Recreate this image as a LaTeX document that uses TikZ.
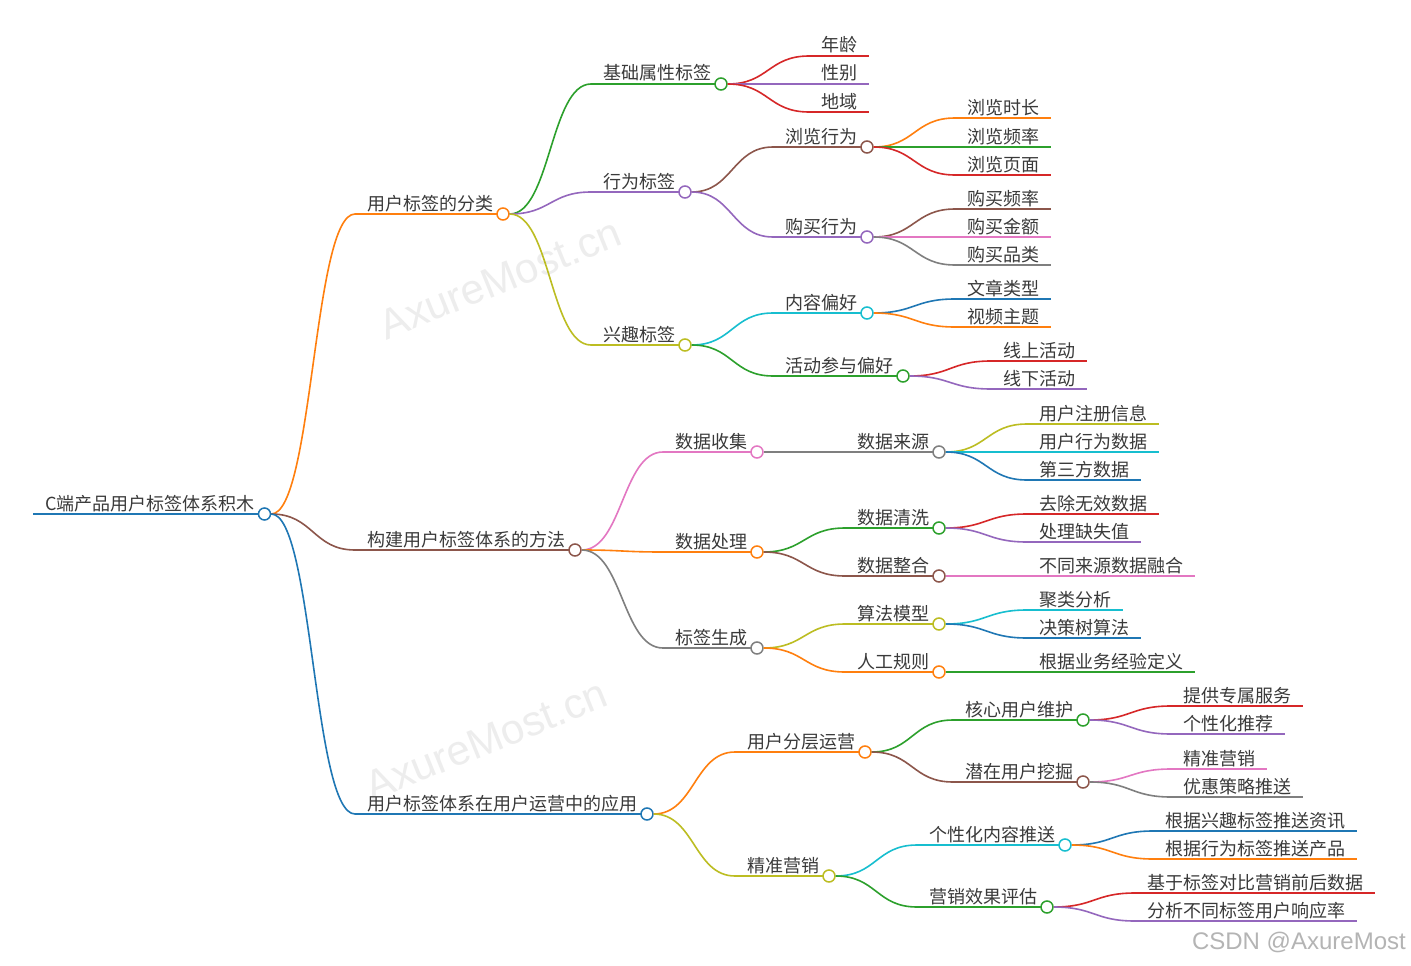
\documentclass[tikz,border=0pt]{standalone}
\usepackage{fontspec}
\newfontfamily\cjk{Noto Sans CJK SC}
\newfontfamily\wmfont{Liberation Sans}
\usetikzlibrary{calc}
\definecolor{cB}{HTML}{1F77B4}
\definecolor{cO}{HTML}{FF7F0E}
\definecolor{cG}{HTML}{2CA02C}
\definecolor{cR}{HTML}{D62728}
\definecolor{cP}{HTML}{9467BD}
\definecolor{cN}{HTML}{8C564B}
\definecolor{cK}{HTML}{E377C2}
\definecolor{cY}{HTML}{7F7F7F}
\definecolor{cL}{HTML}{BCBD22}
\definecolor{cC}{HTML}{17BECF}
\definecolor{txt}{HTML}{3A3A3A}
\definecolor{wmc}{HTML}{EDEDED}
\definecolor{csdn}{HTML}{B4B4B4}
\tikzset{
  lbl/.style={font=\cjk\fontsize{18}{20}\selectfont, text=txt, inner sep=0pt, outer sep=0pt},
  dot/.style={circle, draw=#1, fill=white, line width=1.5pt, minimum size=12pt, inner sep=0pt},
  br/.style={draw=#1, line width=1.6pt},
  wm/.style={font=\wmfont\fontsize{42}{44}\selectfont, text=wmc, inner sep=0pt},
}
\newcommand\mnode[5]{%
  \coordinate (#1-s) at (#2,#3);
  \node[lbl, anchor=base west] (#1) at (#2+12,#3-4) {#5};
  \path (#1.east |- #1-s) ++(10,0) coordinate (#1-cc);
  \draw[br=#4] (#1-s) -- (#1-cc);
  \node[dot=#4] (#1-c) at (#1-cc) {};
}
\newcommand\mleaf[5]{%
  \coordinate (#1-s) at (#2,#3);
  \node[lbl, anchor=base west] (#1) at (#2+12,#3-4) {#5};
  \path (#1.east |- #1-s) ++(12,0) coordinate (#1-e);
  \draw[br=#4] (#1-s) -- (#1-e);
}
\newcommand\mlink[3]{%
  \draw[br=#1] let \p1=(#2-c.east), \p2=(#3-s) in (\p1) .. controls ({0.5*\x1+0.5*\x2},\y1) and ({0.5*\x1+0.5*\x2},\y2) .. (\p2);
}
\begin{document}
\begin{tikzpicture}[x=1pt,y=-1pt]
\fill[white] (0,0) rectangle (1411,966);
\useasboundingbox (0,0) rectangle (1411,966);
% watermarks
\node[wm, rotate=22] (wm1) at (500,279) {AxureMost.cn};
\node[wm, rotate=22] (wm2) at (486,740) {AxureMost.cn};
\node[font=\wmfont\fontsize{24}{26}\selectfont, text=csdn, anchor=base east, inner sep=0pt] (wm3) at (1406,949) {CSDN @AxureMost};
% root
\mnode{root}{33}{514}{cB}{C端产品用户标签体系积木}
% level 1
\mnode{a}{355}{214}{cO}{用户标签的分类}\mlink{cO}{root}{a}
\mnode{b}{355}{550}{cN}{构建用户标签体系的方法}\mlink{cN}{root}{b}
\mnode{c}{355}{814}{cB}{用户标签体系在用户运营中的应用}\mlink{cB}{root}{c}
% --- a
\mnode{a1}{591}{84}{cG}{基础属性标签}\mlink{cG}{a}{a1}
\mnode{a2}{591}{192}{cP}{行为标签}\mlink{cP}{a}{a2}
\mnode{a3}{591}{345}{cL}{兴趣标签}\mlink{cL}{a}{a3}
% a1 leaves
\mleaf{a11}{809}{56}{cR}{年龄}\mlink{cR}{a1}{a11}
\mleaf{a12}{809}{84}{cP}{性别}\mlink{cP}{a1}{a12}
\mleaf{a13}{809}{112}{cR}{地域}\mlink{cR}{a1}{a13}
% a2
\mnode{a21}{773}{147}{cN}{浏览行为}\mlink{cN}{a2}{a21}
\mnode{a22}{773}{237}{cP}{购买行为}\mlink{cP}{a2}{a22}
\mleaf{a211}{955}{118}{cO}{浏览时长}\mlink{cO}{a21}{a211}
\mleaf{a212}{955}{147}{cG}{浏览频率}\mlink{cG}{a21}{a212}
\mleaf{a213}{955}{175}{cR}{浏览页面}\mlink{cR}{a21}{a213}
\mleaf{a221}{955}{209}{cN}{购买频率}\mlink{cN}{a22}{a221}
\mleaf{a222}{955}{237}{cK}{购买金额}\mlink{cK}{a22}{a222}
\mleaf{a223}{955}{265}{cY}{购买品类}\mlink{cY}{a22}{a223}
% a3
\mnode{a31}{773}{313}{cC}{内容偏好}\mlink{cC}{a3}{a31}
\mnode{a32}{773}{376}{cG}{活动参与偏好}\mlink{cG}{a3}{a32}
\mleaf{a311}{955}{299}{cB}{文章类型}\mlink{cB}{a31}{a311}
\mleaf{a312}{955}{327}{cO}{视频主题}\mlink{cO}{a31}{a312}
\mleaf{a321}{991}{361}{cR}{线上活动}\mlink{cR}{a32}{a321}
\mleaf{a322}{991}{389}{cP}{线下活动}\mlink{cP}{a32}{a322}
% --- b
\mnode{b1}{663}{452}{cK}{数据收集}\mlink{cK}{b}{b1}
\mnode{b2}{663}{552}{cO}{数据处理}\mlink{cO}{b}{b2}
\mnode{b3}{663}{648}{cY}{标签生成}\mlink{cY}{b}{b3}
\mnode{b11}{845}{452}{cY}{数据来源}\mlink{cY}{b1}{b11}
\mleaf{b111}{1027}{424}{cL}{用户注册信息}\mlink{cL}{b11}{b111}
\mleaf{b112}{1027}{452}{cC}{用户行为数据}\mlink{cC}{b11}{b112}
\mleaf{b113}{1027}{480}{cB}{第三方数据}\mlink{cB}{b11}{b113}
\mnode{b21}{845}{528}{cG}{数据清洗}\mlink{cG}{b2}{b21}
\mnode{b22}{845}{576}{cN}{数据整合}\mlink{cN}{b2}{b22}
\mleaf{b211}{1027}{514}{cR}{去除无效数据}\mlink{cR}{b21}{b211}
\mleaf{b212}{1027}{542}{cP}{处理缺失值}\mlink{cP}{b21}{b212}
\mleaf{b221}{1027}{576}{cK}{不同来源数据融合}\mlink{cK}{b22}{b221}
\mnode{b31}{845}{624}{cL}{算法模型}\mlink{cL}{b3}{b31}
\mnode{b32}{845}{672}{cO}{人工规则}\mlink{cO}{b3}{b32}
\mleaf{b311}{1027}{610}{cC}{聚类分析}\mlink{cC}{b31}{b311}
\mleaf{b312}{1027}{638}{cB}{决策树算法}\mlink{cB}{b31}{b312}
\mleaf{b321}{1027}{672}{cG}{根据业务经验定义}\mlink{cG}{b32}{b321}
% --- c
\mnode{c1}{735}{752}{cO}{用户分层运营}\mlink{cO}{c}{c1}
\mnode{c2}{735}{876}{cL}{精准营销}\mlink{cL}{c}{c2}
\mnode{c11}{953}{720}{cG}{核心用户维护}\mlink{cG}{c1}{c11}
\mnode{c12}{953}{782}{cN}{潜在用户挖掘}\mlink{cN}{c1}{c12}
\mleaf{c111}{1171}{706}{cR}{提供专属服务}\mlink{cR}{c11}{c111}
\mleaf{c112}{1171}{734}{cP}{个性化推荐}\mlink{cP}{c11}{c112}
\mleaf{c121}{1171}{769}{cK}{精准营销}\mlink{cK}{c12}{c121}
\mleaf{c122}{1171}{797}{cY}{优惠策略推送}\mlink{cY}{c12}{c122}
\mnode{c21}{917}{845}{cC}{个性化内容推送}\mlink{cC}{c2}{c21}
\mnode{c22}{917}{907}{cG}{营销效果评估}\mlink{cG}{c2}{c22}
\mleaf{c211}{1153}{831}{cB}{根据兴趣标签推送资讯}\mlink{cB}{c21}{c211}
\mleaf{c212}{1153}{859}{cO}{根据行为标签推送产品}\mlink{cO}{c21}{c212}
\mleaf{c221}{1135}{893}{cR}{基于标签对比营销前后数据}\mlink{cR}{c22}{c221}
\mleaf{c222}{1135}{921}{cP}{分析不同标签用户响应率}\mlink{cP}{c22}{c222}
\end{tikzpicture}
\end{document}
